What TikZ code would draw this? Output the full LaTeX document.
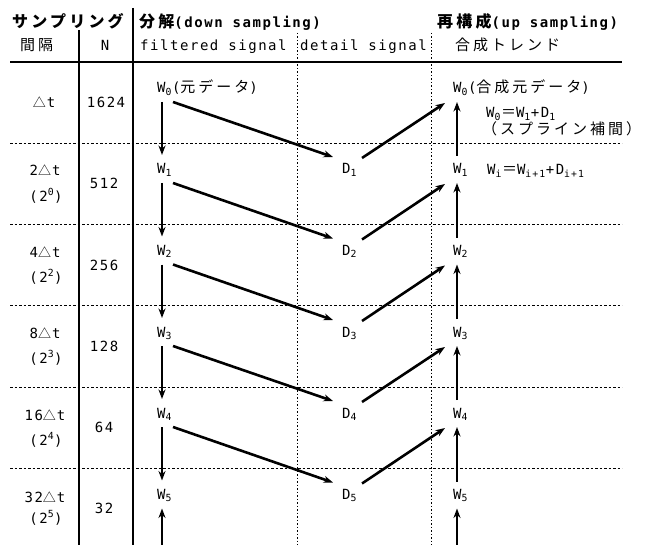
\documentclass[tikz,border=0pt]{standalone}
\usepackage{fontspec}
\usetikzlibrary{arrows.meta,calc}
\newfontfamily\jpf[LetterSpace=20]{Noto Sans CJK JP}
\newfontfamily\ltf[LetterSpace=11]{DejaVu Sans Mono}
\newcommand\jtext[1]{{\fontsize{15}{17}\selectfont\jpf #1}}
\newcommand\jhead[1]{{\fontsize{16}{18}\selectfont\jpf #1}}
\newcommand\tri{{\fontsize{13}{15}\selectfont\jpf △}\hspace{1pt}}
\tikzset{
  txt/.style={inner sep=0pt, font=\fontsize{14}{16}\selectfont\ltf},
  hd/.style={inner sep=0pt, font=\fontsize{14}{16}\selectfont\ltf\bfseries},
  arr/.style={line width=2.6pt, -{Stealth[length=9.5pt,width=7pt]}},
  solidline/.style={line width=1.4pt},
  hdots/.style={line width=0.9pt, dash pattern=on 2.5pt off 2pt},
  vdots/.style={line width=0.9pt, dash pattern=on 1.5pt off 2pt},
}
\begin{document}
\begin{tikzpicture}[x=1pt,y=-1pt]
\useasboundingbox (0,0) rectangle (652,545);
% headers
\node[hd, anchor=base west] (h1) at (12,28) {\jhead{サンプリング}};
\node[hd, anchor=base west] (h2) at (139,28) {\jhead{分解}(down sampling)};
\node[hd, anchor=base west] (h3) at (437,28) {\jhead{再構成}(up sampling)};
\node[txt, anchor=base west] (h4) at (20,51) {\jtext{間隔}};
\node[txt, anchor=base] (h5) at (105,51) {N};
\node[txt, anchor=base west] (h6) at (140,51) {filtered signal};
\node[txt, anchor=base west] (h7) at (300,51) {detail signal};
\node[txt, anchor=base west] (h8) at (455,51) {\jtext{合成トレンド}};
% table lines
\draw[solidline] (10,62) -- (622,62);
\draw[solidline] (79,30) -- (79,545);
\draw[solidline] (133,8) -- (133,545);
\draw[vdots] (297,33) -- (297,545);
\draw[vdots] (431,33) -- (431,545);
\foreach \yy in {143,224.5,305.75,387,468.25} \draw[hdots] (10,\yy) -- (622,\yy);
% left column
\node[txt, anchor=base] (t0) at (44,108) {\tri t};
\node[txt, anchor=base] (n0) at (106,108) {1624};
\node[txt, anchor=base] (t1a) at (45,176) {2\tri t};
\node[txt, anchor=base] (t1b) at (46,201) {(2\textsuperscript{0})};
\node[txt, anchor=base] (n1) at (104,189) {512};
\node[txt, anchor=base] (t2a) at (45,257) {4\tri t};
\node[txt, anchor=base] (t2b) at (46,282) {(2\textsuperscript{2})};
\node[txt, anchor=base] (n2) at (104,270) {256};
\node[txt, anchor=base] (t3a) at (45,338) {8\tri t};
\node[txt, anchor=base] (t3b) at (46,363) {(2\textsuperscript{3})};
\node[txt, anchor=base] (n3) at (104,351) {128};
\node[txt, anchor=base] (t4a) at (45,420) {16\tri t};
\node[txt, anchor=base] (t4b) at (46,445) {(2\textsuperscript{4})};
\node[txt, anchor=base] (n4) at (104,432) {64};
\node[txt, anchor=base] (t5a) at (45,502) {32\tri t};
\node[txt, anchor=base] (t5b) at (46,523) {(2\textsuperscript{5})};
\node[txt, anchor=base] (n5) at (104,513) {32};
% W and D nodes
\node[txt, anchor=base west] (lw0) at (157,93) {W\textsubscript{0}(\jtext{元データ})};
\node[txt, anchor=base west] (rw0) at (453,93) {W\textsubscript{0}(\jtext{合成元データ})};
\foreach \i/\yy in {1/169,2/250.5,3/332,4/413,5/494.5}{
  \node[txt, anchor=base west] (lw\i) at (157,\yy+5) {W\textsubscript{\i}};
  \node[txt, anchor=base west] (d\i) at (342,\yy+5) {D\textsubscript{\i}};
  \node[txt, anchor=base west] (rw\i) at (453,\yy+5) {W\textsubscript{\i}};
}
\node[txt, anchor=base west] (eq0) at (486,118) {W\textsubscript{0}\jtext{＝}W\textsubscript{1}+D\textsubscript{1}};
\node[txt, anchor=base west] (sp) at (482,135) {\jtext{（スプライン補間）}};
\node[txt, anchor=base west] (eqi) at (487,175) {W\textsubscript{i}\jtext{＝}W\textsubscript{i+1}+D\textsubscript{i+1}};
% arrows
\foreach \i/\j in {0/1,1/2,2/3,3/4,4/5}{
  \draw[arr] ([shift={(5pt,-9pt)}]lw\i.base west) -- ([shift={(5pt,19pt)}]lw\j.base west);
  \draw[arr] ([shift={(16pt,-9pt)}]lw\i.base west) -- ([shift={(-9pt,17pt)}]d\j.base west);
  \draw[arr] ([shift={(20pt,16pt)}]d\j.base west) -- ([shift={(-8pt,-10pt)}]rw\i.base west);
  \draw[arr] ([shift={(4pt,18pt)}]rw\j.base west) -- ([shift={(4pt,-9pt)}]rw\i.base west);
}
\coordinate (lb) at (162,545);
\coordinate (rb) at (457,545);
\draw[arr] (lb) -- ([shift={(5pt,-9pt)}]lw5.base west);
\draw[arr] (rb) -- ([shift={(4pt,-9pt)}]rw5.base west);
\end{tikzpicture}
\end{document}
